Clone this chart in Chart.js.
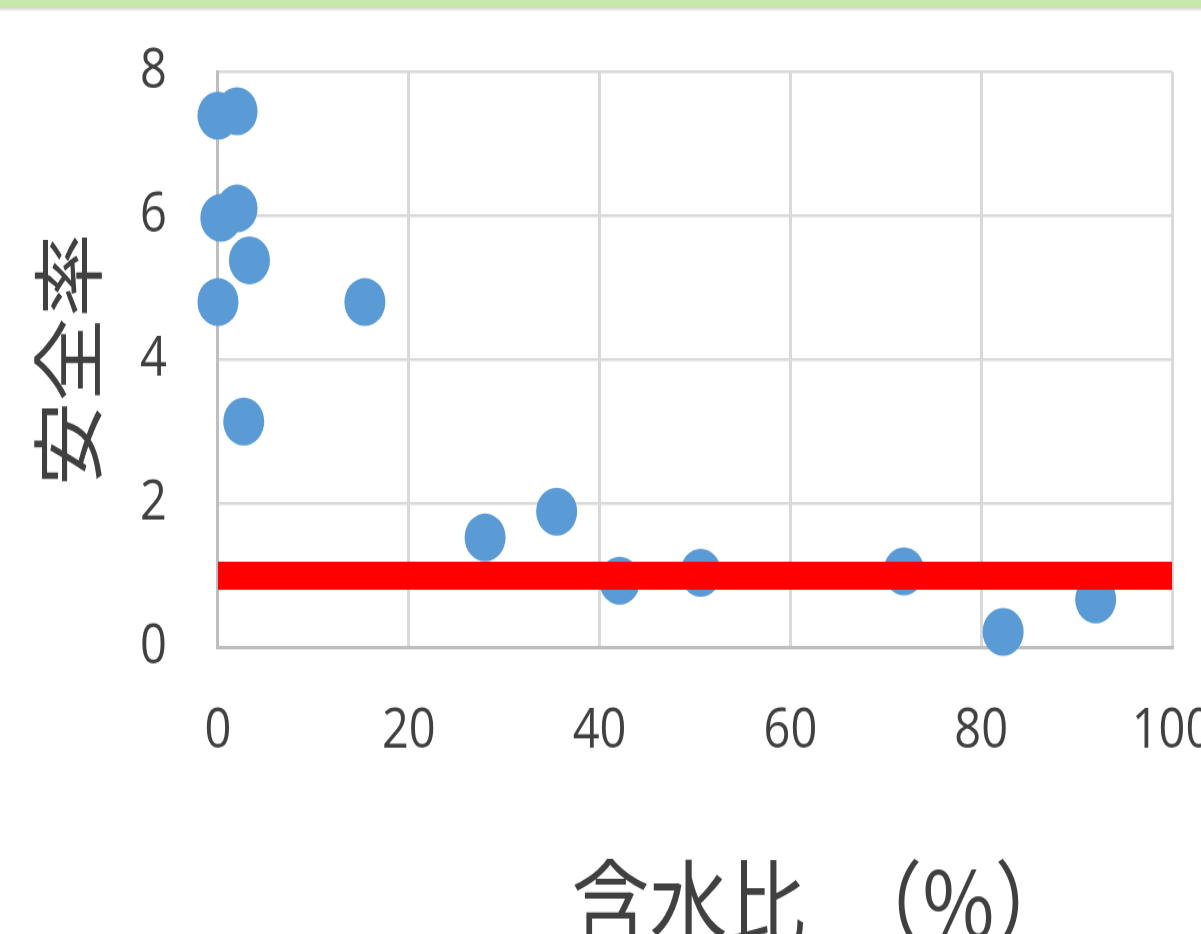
<!DOCTYPE html>
<html><head><meta charset="utf-8">
<script src="https://cdn.jsdelivr.net/npm/chart.js@4"></script>
<style>
html,body{margin:0;padding:0;background:#fff;overflow:hidden;width:1201px;height:934px;}
#topbar{position:absolute;left:0;top:0;width:1201px;height:7px;background:#c9e7a7;z-index:2;}
#topline{position:absolute;left:0;top:7px;width:1201px;height:4px;background:linear-gradient(#d0d0d0,#f4f4f4);z-index:2;}
#c{position:absolute;left:0;top:-20.7px;transform:scaleY(1.17);transform-origin:0 0;}
</style></head><body>
<div id="topbar"></div><div id="topline"></div>
<canvas id="c" width="1260" height="830"></canvas>
<script>
// 含水比 (%)
const waterContent = [0, 2.0, 0.3, 2.0, 3.3, 0, 15.4, 2.7, 28.0, 35.5, 42.1, 50.6, 71.9, 82.3, 92.0];
// 安全率
const safetyFactor = [7.39, 7.45, 5.97, 6.10, 5.38, 4.80, 4.80, 3.14, 1.53, 1.89, 0.93, 1.04, 1.06, 0.22, 0.67];
// 基準線 (安全率 = 1)
const thresholdX = [0, 100];
const thresholdY = [1, 1];
const xTicks = [0, 20, 40, 60, 80, 100];
const yTicks = [0, 2, 4, 6, 8];
const xTitle = '含水比　（%）';
const yTitle = '安全率';

const scatterPts = waterContent.map((x, i) => ({x: x, y: safetyFactor[i]}));
const linePts = thresholdX.map((x, i) => ({x: x, y: thresholdY[i]}));

const TEXT = '#404040';
const XTITLE_SIZE = 78;
const YTITLE_SIZE = 72;
const xTitlePlugin = {
  id: 'xTitle',
  afterDraw(chart) {
    const {ctx, chartArea: a} = chart;
    ctx.save();
    ctx.font = XTITLE_SIZE + 'px "Noto Sans CJK JP"';
    ctx.fillStyle = TEXT;
    ctx.textAlign = 'center';
    ctx.textBaseline = 'middle';
    ctx.fillText(xTitle, (a.left + a.right) / 2 + 127, a.bottom + 217.5);
    ctx.restore();
  }
};

function draw() {
  new Chart(document.getElementById('c'), {
    type: 'scatter',
    data: {
      datasets: [
        {
          type: 'line', label: 'threshold', data: linePts, order: 0,
          borderColor: '#ff0000', borderWidth: 24, pointRadius: 0, showLine: true,
          borderCapStyle: 'butt', fill: false, clip: false
        },
        {
          type: 'scatter', label: 'data', data: scatterPts, order: 1,
          backgroundColor: '#5b9bd5', borderWidth: 0, pointRadius: 20.5, pointHoverRadius: 20.5,
          clip: false
        }
      ]
    },
    options: {
      responsive: false,
      animation: false,
      layout: {padding: {top: 20, right: 88, bottom: 114.5, left: 0}},
      plugins: {legend: {display: false}, tooltip: {enabled: false}},
      scales: {
        x: {
          type: 'linear', min: xTicks[0], max: xTicks[xTicks.length - 1],
          afterBuildTicks: s => { s.ticks = xTicks.map(v => ({value: v})); },
          ticks: {padding: 43.8, color: TEXT, font: {family: '"Open Sans"', size: 47}, maxRotation: 0},
          grid: {color: '#d9d9d9', lineWidth: 3, drawTicks: false},
          border: {color: '#bfbfbf', width: 3}
        },
        y: {
          type: 'linear', min: yTicks[0], max: yTicks[yTicks.length - 1],
          afterBuildTicks: s => { s.ticks = yTicks.map(v => ({value: v})); },
          ticks: {padding: 51, color: TEXT, font: {family: '"Open Sans"', size: 47}},
          grid: {color: '#d9d9d9', lineWidth: 2.6, drawTicks: false},
          border: {color: '#bfbfbf', width: 3},
          title: {display: true, text: yTitle, color: TEXT,
                  font: {family: '"Noto Sans CJK JP"', size: YTITLE_SIZE},
                  padding: {top: 24.8, bottom: -22.1}}
        }
      }
    },
    plugins: [xTitlePlugin]
  });
}
Promise.all([
  document.fonts.load('47px "Open Sans"'),
  document.fonts.load(XTITLE_SIZE + 'px "Noto Sans CJK JP"', '含水比安全率')
]).then(draw, draw);
</script>
</body></html>
